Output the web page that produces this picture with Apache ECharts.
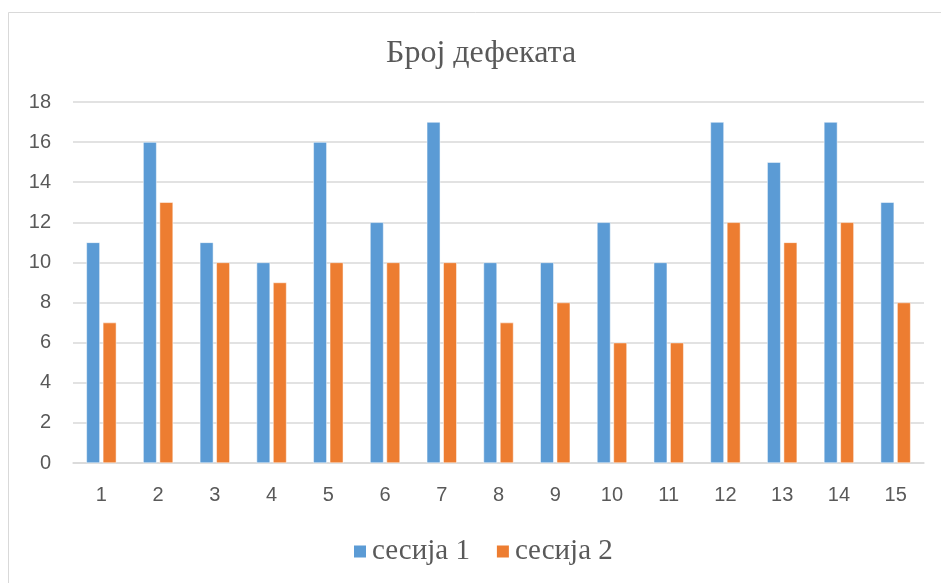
<!DOCTYPE html>
<html>
<head>
<meta charset="utf-8">
<script src="https://cdn.jsdelivr.net/npm/echarts@6/dist/echarts.min.js"></script>
<style>
  html, body { margin: 0; padding: 0; background: #fff; }
  #chart { width: 941px; height: 583px; }
</style>
</head>
<body>
<div id="chart"></div>
<script>
const categories = ['1', '2', '3', '4', '5', '6', '7', '8', '9', '10', '11', '12', '13', '14', '15'];
const session1 = [11, 16, 11, 10, 16, 12, 17, 10, 10, 12, 10, 17, 15, 17, 13];
const session2 = [7, 13, 10, 9, 10, 10, 10, 7, 8, 6, 6, 12, 11, 12, 8];
const seriesNames = ['сесија 1', 'сесија 2'];
const titleText = 'Број дефеката';

const chart = echarts.init(document.getElementById('chart'), null, { renderer: 'canvas' });
const serif = '"Liberation Serif", "DejaVu Serif", serif';
const sans = '"Liberation Sans", "Open Sans", sans-serif';

chart.setOption({
  animation: false,
  backgroundColor: '#ffffff',
  graphic: [{
    type: 'rect',
    shape: { x: 8.5, y: 12.5, width: 1000, height: 1000 },
    style: { fill: 'none', stroke: '#d9d9d9', lineWidth: 1 },
    silent: true
  }],
  title: {
    text: titleText,
    left: 381,
    top: 33,
    textStyle: { fontFamily: serif, fontSize: 32, fontWeight: 'normal', color: '#595959' }
  },
  legend: {
    data: seriesNames,
    bottom: 12,
    left: 347,
    icon: 'rect',
    itemWidth: 14,
    itemHeight: 14,
    itemGap: 25,
    textStyle: { fontFamily: serif, fontSize: 29, color: '#595959' }
  },
  grid: { left: 73, right: 17, top: 102, bottom: 120 },
  xAxis: {
    type: 'category',
    data: categories,
    axisLine: { lineStyle: { color: '#d9d9d9', width: 1.5 } },
    axisTick: { show: false },
    axisLabel: { fontFamily: sans, fontSize: 20, color: '#595959', margin: 22 }
  },
  yAxis: {
    type: 'value',
    min: 0,
    max: 18,
    interval: 2,
    axisLine: { show: false },
    axisTick: { show: false },
    splitLine: { lineStyle: { color: '#d9d9d9', width: 1.5 } },
    axisLabel: { fontFamily: sans, fontSize: 20, color: '#595959', margin: 22 }
  },
  series: [
    {
      name: seriesNames[0],
      type: 'bar',
      data: session1,
      barWidth: 13.5,
      barGap: '22%',
      itemStyle: { color: '#5b9bd5', borderColor: '#ffffff', borderWidth: 0.5 }
    },
    {
      name: seriesNames[1],
      type: 'bar',
      data: session2,
      barWidth: 13.5,
      itemStyle: { color: '#ed7d31', borderColor: '#ffffff', borderWidth: 0.5 }
    }
  ]
});
</script>
</body>
</html>
